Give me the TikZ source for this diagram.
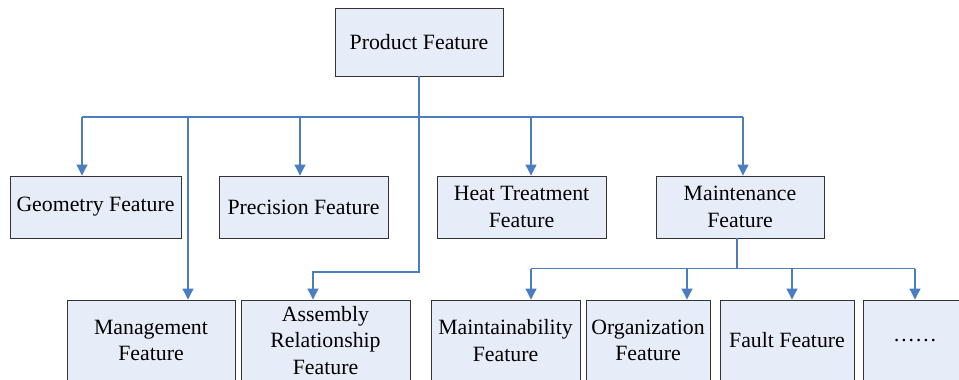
\documentclass[tikz,border=0pt]{standalone}
\usepackage{fontspec}
\setmainfont{Liberation Serif}
\usetikzlibrary{arrows.meta}
\definecolor{boxfill}{HTML}{E7EDF8}
\definecolor{boxline}{HTML}{333333}
\definecolor{linkblue}{HTML}{4A7EC0}
\begin{document}
\begin{tikzpicture}[x=1pt,y=-1pt,
  fbox/.style={draw=boxline,fill=boxfill,line width=0.9pt,align=center,inner sep=0pt,
    font=\fontsize{21.8}{26.5}\selectfont,minimum height=62pt},
  link/.style={draw=linkblue,line width=1.1pt},
  arr/.style={link,-{Triangle[width=11pt,length=11pt]}}]
\useasboundingbox (0,0) rectangle (959,380);
\clip (0,0) rectangle (959,380);
% top
\node[fbox,minimum width=168pt,minimum height=68pt] (prod) at (419,42) {Product Feature};
% second row
\node[fbox,minimum width=171pt] (geo) at (95.5,207) {Geometry Feature};
\node[fbox,minimum width=169pt] (pre) at (303.5,207) {Precision Feature};
\node[fbox,minimum width=169pt] (heat) at (521.5,207) {Heat Treatment\\Feature};
\node[fbox,minimum width=168pt] (mnt) at (740,207) {Maintenance\\Feature};
% third row
\node[fbox,minimum width=168pt,minimum height=81pt] (man) at (151,340.5) {Management\\Feature};
\node[fbox,minimum width=169pt,minimum height=81pt] (asm) at (325.5,340.5) {Assembly\\Relationship\\Feature};
\node[fbox,minimum width=149pt,minimum height=81pt] (mab) at (505.5,340.5) {Maintainability\\Feature};
\node[fbox,minimum width=124pt,minimum height=81pt] (org) at (648,340.5) {Organization\\Feature};
\node[fbox,minimum width=134pt,minimum height=81pt] (flt) at (787,340.5) {Fault Feature};
\node[fbox,minimum width=104pt,minimum height=81pt] (dots) at (915,340.5) {……};
% junctions
\coordinate (j) at (419,117);
\coordinate (bg) at (82,117);
\coordinate (bm) at (188,117);
\coordinate (bp) at (300,117);
\coordinate (bh) at (531,117);
\coordinate (bt) at (743,117);
\coordinate (ka) at (419,272);
\coordinate (kb) at (313,272);
\coordinate (ms) at (737,238);
\coordinate (mj) at (737,268.5);
\coordinate (c1) at (531,268.5);
\coordinate (c2) at (687,268.5);
\coordinate (c3) at (792,268.5);
\coordinate (c4) at (915,268.5);
% links from product
\draw[link] (prod.south) -- (j);
\draw[link] (bg) -- (bt);
\draw[arr] (bg) -- (bg |- geo.north);
\draw[arr] (bm) -- (bm |- man.north);
\draw[arr] (bp) -- (bp |- pre.north);
\draw[arr] (bh) -- (bh |- heat.north);
\draw[arr] (bt) -- (bt |- mnt.north);
\draw[arr] (j) -- (ka) -- (kb) -- (kb |- asm.north);
% links from maintenance
\draw[link] (ms) -- (mj);
\draw[link] (c1) -- (c4);
\draw[arr] (c1) -- (c1 |- mab.north);
\draw[arr] (c2) -- (c2 |- org.north);
\draw[arr] (c3) -- (c3 |- flt.north);
\draw[arr] (c4) -- (c4 |- dots.north);
\end{tikzpicture}
\end{document}
